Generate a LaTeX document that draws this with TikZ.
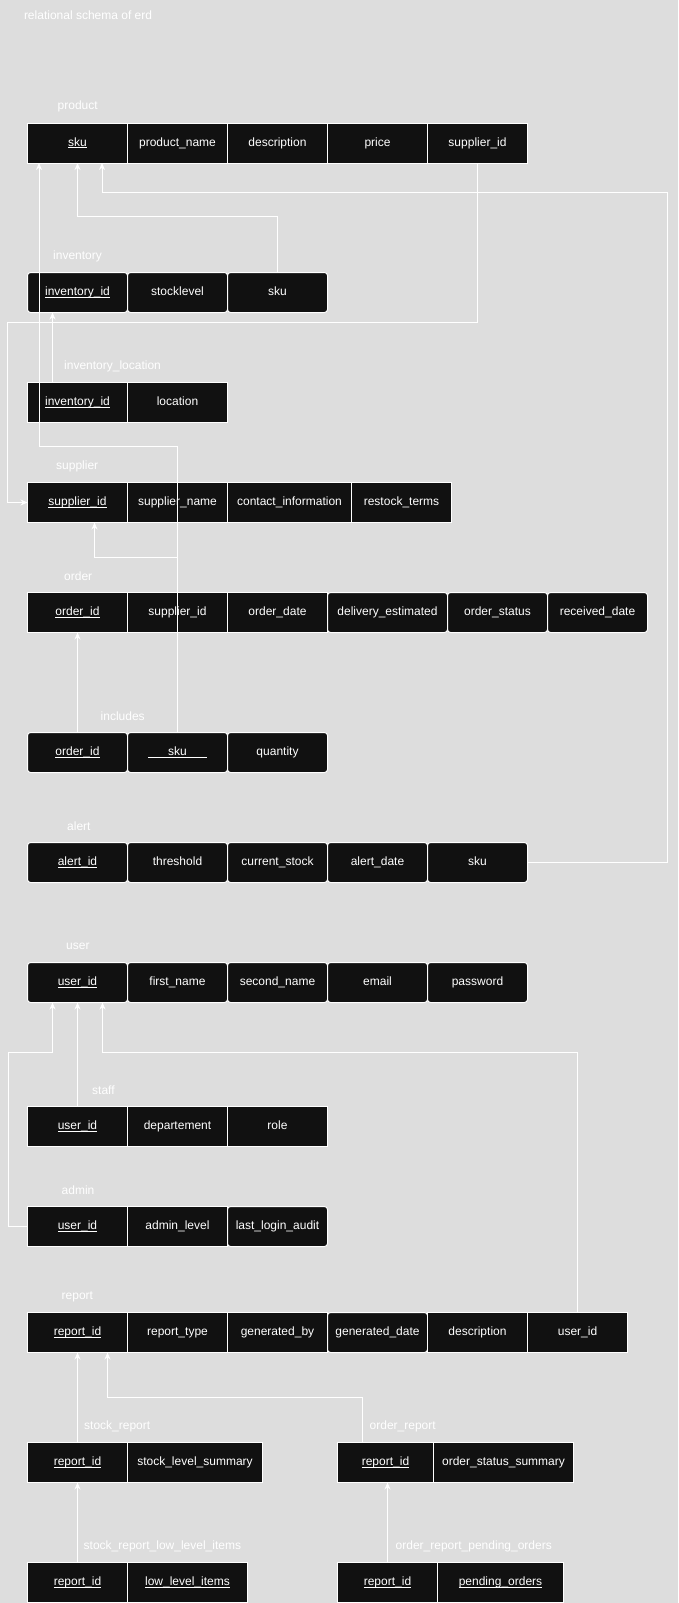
\documentclass[tikz,border=0pt]{standalone}
\usepackage{fontspec}
\setmainfont{Liberation Sans}
\usetikzlibrary{arrows.meta}
\definecolor{bggray}{HTML}{DDDDDD}
\definecolor{cellblack}{HTML}{111111}
\newcommand{\pk}[1]{\setbox0\hbox{#1}\rlap{\rule[-2.2pt]{\wd0}{0.8pt}}\box0}
\tikzset{
  cell/.style={draw=white, fill=cellblack, text=white, line width=1pt, minimum width=100pt,
    minimum height=40pt, inner sep=0pt, outer sep=0pt, anchor=north west, text height=9pt,
    text depth=3pt, font=\fontsize{12}{14}\selectfont},
  rcell/.style={cell, rounded corners=3pt},
  tname/.style={text=white, anchor=west, inner sep=0pt, font=\fontsize{12}{14}\selectfont},
  fk/.style={draw=white, line width=1pt, -{Stealth[length=7pt,width=6pt]}}
}

\begin{document}
\begin{tikzpicture}[x=1pt, y=-1pt]%1 unit = 1px of the sketch
      \fill[bggray] (0,0) rectangle (678,1603);
      \useasboundingbox (0,0) rectangle (678,1603);
      \node[tname] (title) at (23.8,15) {relational schema of erd};
      % product
      \node[tname] (lbl-product) at (57.5,106.5) {product};
      \node[cell] (prod-sku) at (27.5,123) {\pk{sku}};
      \node[cell] (prod-name) at (127.5,123) {product\_name};
      \node[cell] (prod-desc) at (227.5,123) {description};
      \node[cell] (prod-price) at (327.5,123) {price};
      \node[cell] (prod-supid) at (427.5,123) {supplier\_id};
      % inventory
      \node[tname] (lbl-inventory) at (53,256.5) {inventory};
      \node[rcell] (inv-id) at (27.5,272.5) {\pk{inventory\_id}};
      \node[rcell] (inv-level) at (127.5,272.5) {stocklevel};
      \node[rcell] (inv-sku) at (227.5,272.5) {sku};
      % inventory_location
      \node[tname] (lbl-invloc) at (64,366.5) {inventory\_location};
      \node[cell] (invloc-id) at (27.5,382.5) {\pk{inventory\_id}};
      \node[cell] (invloc-loc) at (127.5,382.5) {location};
      % supplier
      \node[tname] (lbl-supplier) at (56,466.5) {supplier};
      \node[cell] (sup-id) at (27.5,482.5) {\pk{supplier\_id}};
      \node[cell] (sup-name) at (127.5,482.5) {supplier\_name};
      \node[cell, minimum width=124pt] (sup-contact) at (227.5,482.5) {contact\_information};
      \node[cell] (sup-terms) at (351.5,482.5) {restock\_terms};
      % order
      \node[tname] (lbl-order) at (64,576.5) {order};
      \node[cell] (ord-id) at (27.5,592.5) {\pk{order\_id}};
      \node[cell] (ord-supid) at (127.5,592.5) {supplier\_id};
      \node[cell] (ord-date) at (227.5,592.5) {order\_date};
      \node[rcell, minimum width=120pt] (ord-deliv) at (327.5,592.5) {delivery\_estimated};
      \node[rcell] (ord-status) at (447.5,592.5) {order\_status};
      \node[rcell] (ord-recv) at (547.5,592.5) {received\_date};
      % includes
      \node[tname] (lbl-includes) at (100.5,716.5) {includes};
      \node[rcell] (inc-oid) at (27.5,732.5) {\pk{order\_id}};
      \node[rcell] (inc-sku) at (127.5,732.5) {\pk{\hspace{20pt}sku\hspace{20pt}}};
      \node[rcell] (inc-qty) at (227.5,732.5) {quantity};
      % alert
      \node[tname] (lbl-alert) at (67,826.5) {alert};
      \node[rcell] (al-id) at (27.5,842.5) {\pk{alert\_id}};
      \node[rcell] (al-thr) at (127.5,842.5) {threshold};
      \node[rcell] (al-cur) at (227.5,842.5) {current\_stock};
      \node[rcell] (al-date) at (327.5,842.5) {alert\_date};
      \node[rcell] (al-sku) at (427.5,842.5) {sku};
      % user
      \node[tname] (lbl-user) at (66,946.5) {user};
      \node[rcell] (usr-id) at (27.5,962.5) {\pk{user\_id}};
      \node[rcell] (usr-first) at (127.5,962.5) {first\_name};
      \node[rcell] (usr-second) at (227.5,962.5) {second\_name};
      \node[rcell] (usr-email) at (327.5,962.5) {email};
      \node[rcell] (usr-pass) at (427.5,962.5) {password};
      % staff
      \node[tname] (lbl-staff) at (92,1090.5) {staff};
      \node[cell] (stf-uid) at (27.5,1106.5) {\pk{user\_id}};
      \node[cell] (stf-dep) at (127.5,1106.5) {departement};
      \node[cell] (stf-role) at (227.5,1106.5) {role};
      % admin
      \node[tname] (lbl-admin) at (61.5,1190.5) {admin};
      \node[cell] (adm-uid) at (27.5,1206.5) {\pk{user\_id}};
      \node[cell] (adm-level) at (127.5,1206.5) {admin\_level};
      \node[rcell] (adm-audit) at (227.5,1206.5) {last\_login\_audit};
      % report
      \node[tname] (lbl-report) at (61.5,1296.5) {report};
      \node[cell] (rep-id) at (27.5,1312.5) {\pk{report\_id}};
      \node[cell] (rep-type) at (127.5,1312.5) {report\_type};
      \node[cell] (rep-by) at (227.5,1312.5) {generated\_by};
      \node[rcell] (rep-date) at (327.5,1312.5) {generated\_date};
      \node[cell] (rep-desc) at (427.5,1312.5) {description};
      \node[cell] (rep-uid) at (527.5,1312.5) {user\_id};
      % stock_report, order_report
      \node[tname] (lbl-sr) at (84,1426.5) {stock\_report};
      \node[cell] (sr-id) at (27.5,1442.5) {\pk{report\_id}};
      \node[cell, minimum width=135pt] (sr-sum) at (127.5,1442.5) {stock\_level\_summary};
      \node[tname] (lbl-or) at (369.5,1426.5) {order\_report};
      \node[cell, minimum width=96pt] (or-id) at (337.5,1442.5) {\pk{report\_id}};
      \node[cell, minimum width=140pt] (or-sum) at (433.5,1442.5) {order\_status\_summary};
      % low level items, pending orders
      \node[tname] (lbl-srl) at (83.5,1546.5) {stock\_report\_low\_level\_items};
      \node[cell] (srl-id) at (27.5,1562.5) {\pk{report\_id}};
      \node[cell, minimum width=120pt] (srl-items) at (127.5,1562.5) {\pk{low\_level\_items}};
      \node[tname] (lbl-orp) at (395.5,1546.5) {order\_report\_pending\_orders};
      \node[cell] (orp-id) at (337.5,1562.5) {\pk{report\_id}};
      \node[cell, minimum width=126pt] (orp-orders) at (437.5,1562.5) {\pk{pending\_orders}};
      % foreign keys
      \draw[fk] (inv-sku.north) |- (77.5,216.5) -- (prod-sku.south);
      \draw[fk] (prod-supid.south) |- (7.5,322.5) |- (sup-id.west);
      \draw[fk] (al-sku.east) -| (667,192.5) -| ([xshift=24.5pt]prod-sku.south);
      \draw[fk] (inc-sku.north) |- (39,446.5) -- ([xshift=-38.5pt]prod-sku.south);
      \draw[fk] (ord-supid.north) |- (94.5,557.5) -- ([xshift=17pt]sup-id.south);
      \draw[fk] ([xshift=-25pt]invloc-id.north) -- ([xshift=-25pt]inv-id.south);
      \draw[fk] (inc-oid.north) -- (ord-id.south);
      \draw[fk] (adm-uid.west) -| (8.5,1052.5) -| ([xshift=-25pt]usr-id.south);
      \draw[fk] (stf-uid.north) -- (usr-id.south);
      \draw[fk] (rep-uid.north) |- (102.5,1052.5) -- ([xshift=25pt]usr-id.south);
      \draw[fk] (sr-id.north) -- (rep-id.south);
      \draw[fk] ([xshift=-23pt]or-id.north) |- (107.5,1397.5) -- ([xshift=30pt]rep-id.south);
      \draw[fk] (srl-id.north) -- (sr-id.south);
      \draw[fk] (orp-id.north) -- (orp-id.north |- or-id.south);
\end{tikzpicture}
\end{document}
